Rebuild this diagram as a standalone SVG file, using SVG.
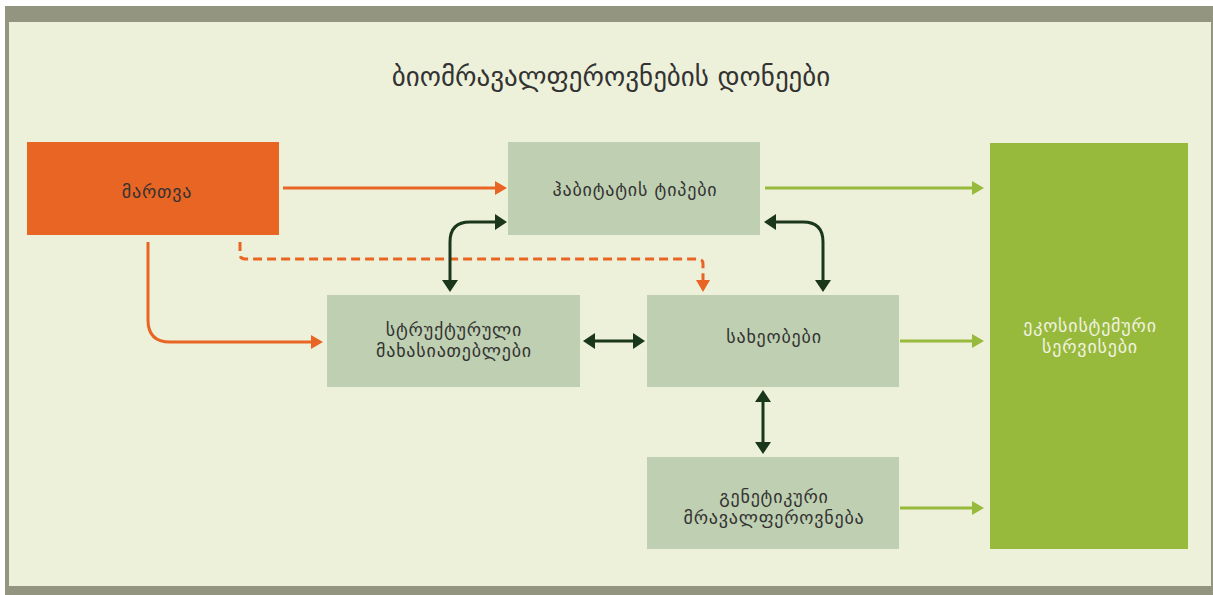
<svg xmlns="http://www.w3.org/2000/svg" width="1213" height="595" viewBox="0 0 1213 595">
<style>
.t{font-family:"DejaVu Sans","Noto Sans",sans-serif;fill:#333333;text-anchor:middle}
.n{font-size:18px;letter-spacing:0.8px}
.lt{fill:#BFCFB1}
.or{fill:none;stroke:#E96524;stroke-width:3}
.dk{fill:none;stroke:#1A361B;stroke-width:3}
.gr{fill:none;stroke:#98BA3C;stroke-width:3}
</style>
<defs>
<marker id="ao" markerUnits="userSpaceOnUse" viewBox="0 0 12 14" markerWidth="12" markerHeight="14" refX="2" refY="7" orient="auto-start-reverse"><path d="M0,0 L12,7 L0,14 z" fill="#E96524"/></marker>
<marker id="ad" markerUnits="userSpaceOnUse" viewBox="0 0 12 16" markerWidth="12" markerHeight="16" refX="2" refY="8" orient="auto-start-reverse"><path d="M0,0 L12,8 L0,16 z" fill="#1A361B"/></marker>
<marker id="ag" markerUnits="userSpaceOnUse" viewBox="0 0 12 14" markerWidth="12" markerHeight="14" refX="2" refY="7" orient="auto-start-reverse"><path d="M0,0 L12,7 L0,14 z" fill="#98BA3C"/></marker>
</defs>
<rect x="0" y="0" width="1213" height="595" fill="#ffffff"/>
<rect x="5" y="6" width="1208" height="589" fill="#939580"/>
<rect x="9" y="22" width="1202" height="564" fill="#EEF1DA"/>
<text class="t" x="611" y="86" font-size="27">ბიომრავალფეროვნების დონეები</text>
<g id="connectors">
<path class="or" d="M283,188 H497" marker-end="url(#ao)"/>
<path class="or" d="M148,242 V320 Q148,342 170,342 H313" marker-end="url(#ao)"/>
<path class="or" d="M240,242 V254 Q240,259 245,259 H698 Q703,259 703,264 V282" stroke-dasharray="9,5" marker-end="url(#ao)"/>
<path class="dk" d="M450,282 V242 Q450,222 470,222 H497" marker-end="url(#ad)" marker-start="url(#ad)"/>
<path class="dk" d="M774,222 H803 Q823,222 823,242 V282" marker-end="url(#ad)" marker-start="url(#ad)"/>
<path class="dk" d="M593,341 H635" marker-end="url(#ad)" marker-start="url(#ad)"/>
<path class="dk" d="M763,400 V444" marker-end="url(#ad)" marker-start="url(#ad)"/>
<path class="gr" d="M765,188 H974" marker-end="url(#ag)"/>
<path class="gr" d="M900,341 H974" marker-end="url(#ag)"/>
<path class="gr" d="M900,508 H974" marker-end="url(#ag)"/>
</g>
<g id="n-martva"><rect x="27" y="142" width="252" height="93" fill="#E96524"/><text class="t n" x="157" y="198">მართვა</text></g>
<g id="n-habitat"><rect class="lt" x="508" y="142" width="252" height="93"/><text class="t n" x="635" y="196">ჰაბიტატის ტიპები</text></g>
<g id="n-struct"><rect class="lt" x="327" y="295" width="253" height="92"/><text class="t n" x="454" y="336">სტრუქტურული</text><text class="t n" x="454" y="357">მახასიათებლები</text></g>
<g id="n-species"><rect class="lt" x="647" y="295" width="252" height="92"/><text class="t n" x="774" y="343">სახეობები</text></g>
<g id="n-genetic"><rect class="lt" x="647" y="457" width="252" height="92"/><text class="t n" x="774" y="503">გენეტიკური</text><text class="t n" x="774" y="524">მრავალფეროვნება</text></g>
<g id="n-eco"><rect x="990" y="143" width="198" height="406" fill="#98BA3C"/><text class="t n" x="1090" y="332" style="fill:#F1F2E0">ეკოსისტემური</text><text class="t n" x="1090" y="353" style="fill:#F1F2E0">სერვისები</text></g>
</svg>
